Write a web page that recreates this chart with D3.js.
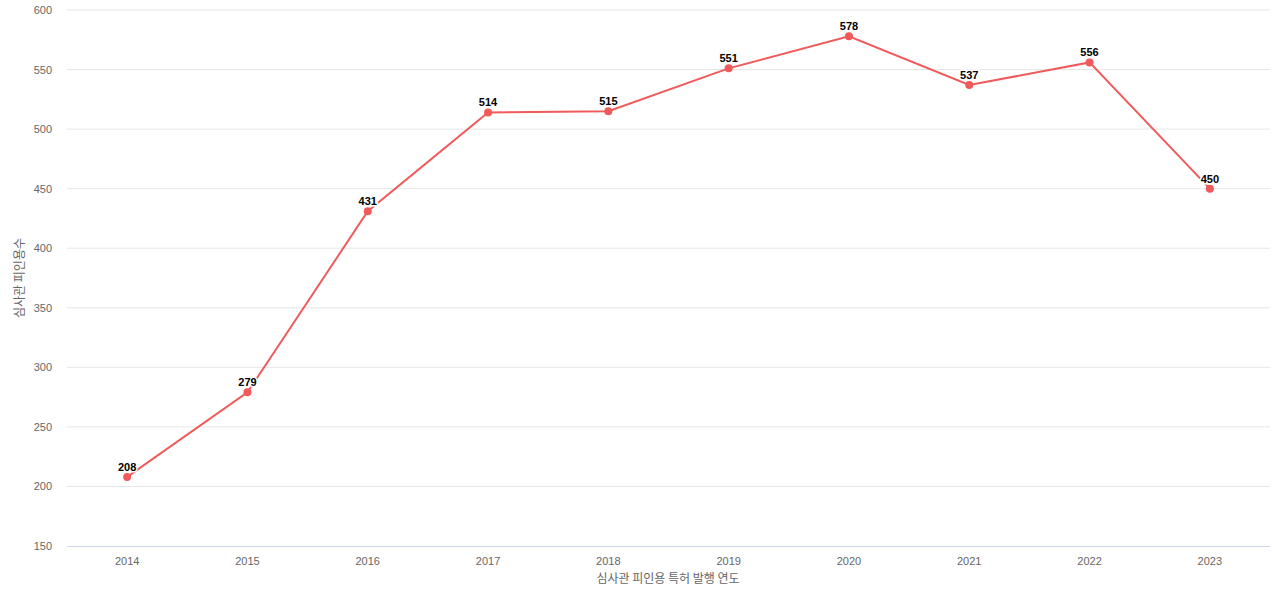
<!DOCTYPE html>
<html><head><meta charset="utf-8">
<script src="https://cdn.jsdelivr.net/npm/d3@7"></script>
<style>body{margin:0;background:#fff;font-family:"Noto Sans CJK KR","Liberation Sans",sans-serif;}</style>
</head><body><svg id="chart" width="1280" height="600"></svg>
<script>
const years = ["2014","2015","2016","2017","2018","2019","2020","2021","2022","2023"];
const counts = [208,279,431,514,515,551,578,537,556,450];
const yTicks = [150,200,250,300,350,400,450,500,550,600];

const svg = d3.select("#chart");
const plotLeft = 67, plotRight = 1270, plotTop = 10, plotBottom = 546;
const x = d3.scalePoint().domain(years).range([plotLeft, plotRight]).padding(0.5);
const y = d3.scaleLinear().domain([150, 600]).range([plotBottom, plotTop]);

// grid
svg.append("g").selectAll("line").data(yTicks.slice(1)).join("line")
  .attr("x1", plotLeft).attr("x2", plotRight).attr("y1", d => y(d)).attr("y2", d => y(d))
  .attr("stroke", "#e6e6e6");
svg.append("line").attr("x1", plotLeft).attr("x2", plotRight).attr("y1", plotBottom + 0.5).attr("y2", plotBottom + 0.5)
  .attr("stroke", "#ccd6eb");

// y labels
svg.append("g").selectAll("text").data(yTicks).join("text")
  .attr("x", 52).attr("y", d => y(d) + 4).attr("text-anchor", "end")
  .attr("font-size", 11).attr("fill", "#666").attr("font-family", "Liberation Sans, sans-serif")
  .text(d => d);
// x labels
svg.append("g").selectAll("text").data(years).join("text")
  .attr("x", d => x(d)).attr("y", 565).attr("text-anchor", "middle")
  .attr("font-size", 11).attr("fill", "#666").attr("font-family", "Liberation Sans, sans-serif")
  .text(d => d);

svg.append("text").attr("x", 668).attr("y", 583).attr("text-anchor", "middle")
  .attr("font-size", 12).attr("fill", "#666").text("심사관 피인용 특허 발행 연도");
svg.append("text").attr("transform", "translate(24,278) rotate(-90)").attr("text-anchor", "middle")
  .attr("font-size", 12).attr("fill", "#666").text("심사관 피인용수");

const pts = years.map((d, i) => ({year: d, v: counts[i]}));
svg.append("path").datum(pts)
  .attr("d", d3.line().x(d => x(d.year)).y(d => y(d.v)))
  .attr("fill", "none").attr("stroke", "#f05a5a").attr("stroke-width", 2);
svg.append("g").selectAll("circle").data(pts).join("circle")
  .attr("cx", d => x(d.year)).attr("cy", d => y(d.v)).attr("r", 4).attr("fill", "#f05a5a");
svg.append("g").selectAll("text").data(pts).join("text")
  .attr("x", d => x(d.year)).attr("y", d => y(d.v) - 6).attr("text-anchor", "middle")
  .attr("font-size", 11).attr("font-weight", "bold").attr("fill", "#000")
  .attr("font-family", "Liberation Sans, sans-serif")
  .attr("stroke", "#fff").attr("stroke-width", 3).attr("paint-order", "stroke")
  .text(d => d.v);
</script></body></html>
